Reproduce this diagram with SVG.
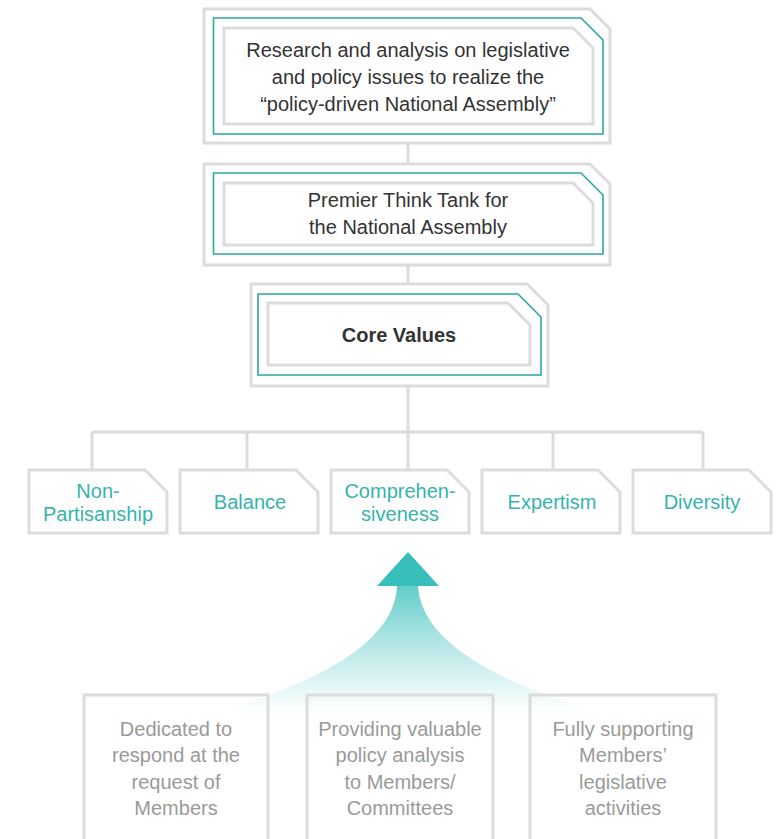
<svg xmlns="http://www.w3.org/2000/svg" width="779" height="839" viewBox="0 0 779 839">
<defs>
<style>
.g{fill:none;stroke:#dcdcdc;stroke-width:3}
.t{fill:none;stroke:#2aa8a4;stroke-width:1.6}
.n{font-family:"Liberation Sans",Arial,sans-serif;font-size:20px;fill:#333;text-anchor:middle}
.v{font-family:"Liberation Sans",Arial,sans-serif;font-size:20px;fill:#36b3ae;text-anchor:middle}
.b{font-family:"Liberation Sans",Arial,sans-serif;font-size:20px;fill:#9a9a9a;text-anchor:middle}
.c{fill:none;stroke:#dcdcdc;stroke-width:3}
</style>
<linearGradient id="fade" x1="0" y1="586" x2="0" y2="712" gradientUnits="userSpaceOnUse">
<stop offset="0" stop-color="#38bfbb" stop-opacity="0.78"/>
<stop offset="0.5" stop-color="#38bfbb" stop-opacity="0.35"/>
<stop offset="0.85" stop-color="#38bfbb" stop-opacity="0.1"/>
<stop offset="1" stop-color="#38bfbb" stop-opacity="0"/>
</linearGradient>
</defs>
<rect width="779" height="839" fill="#fff"/>
<g id="connectors">
<path class="c" d="M408,143V164M408,265V284M408,386V432M92,432H703M92,432V470M247,432V470M408,432V470M553,432V470M703,432V470"/>
</g>
<g id="upward-arrow">
<path d="M397,586 C395,630 350,672 220,712 L596,712 C466,672 421,630 418,586 Z" fill="url(#fade)"/>
<polygon points="408,552 377,586 439,586" fill="#38bfbb"/>
</g>
<g id="node-research">
<polygon class="g" points="204,9 590,9 610,29 610,143 204,143"/>
<polygon class="t" points="213.5,18 581,18 603,40 603,134 213.5,134"/>
<polygon class="g" points="224,28 573,28 593,48 593,124 224,124"/>
<text class="n" x="408" y="57">Research and analysis on legislative</text>
<text class="n" x="408" y="84">and policy issues to realize the</text>
<text class="n" x="408" y="111">“policy-driven National Assembly”</text>
</g>
<g id="node-thinktank">
<polygon class="g" points="204,164 590,164 610,184 610,265 204,265"/>
<polygon class="t" points="213.5,173 581,173 603,195 603,254 213.5,254"/>
<polygon class="g" points="224,183 573,183 593,203 593,245 224,245"/>
<text class="n" x="408" y="207">Premier Think Tank for</text>
<text class="n" x="408" y="234">the National Assembly</text>
</g>
<g id="node-core">
<polygon class="g" points="251,284 527,284 548,305 548,386 251,386"/>
<polygon class="t" points="258,294 518,294 541,317 541,375 258,375"/>
<polygon class="g" points="268,303 508,303 530,325 530,365 268,365"/>
<text class="n" x="399" y="342" font-weight="bold" font-size="21">Core Values</text>
</g>
<g id="value-nonpartisanship">
<polygon class="g" points="29,470 145,470 167,492 167,533 29,533"/>
<text class="v" x="98" y="498">Non-</text>
<text class="v" x="98" y="521">Partisanship</text>
</g>
<g id="value-balance">
<polygon class="g" points="180,470 296,470 318,492 318,533 180,533"/>
<text class="v" x="250" y="509">Balance</text>
</g>
<g id="value-comprehensiveness">
<polygon class="g" points="331,470 447,470 469,492 469,533 331,533"/>
<text class="v" x="400" y="498">Comprehen-</text>
<text class="v" x="400" y="521">siveness</text>
</g>
<g id="value-expertism">
<polygon class="g" points="482,470 598,470 620,492 620,533 482,533"/>
<text class="v" x="552" y="509">Expertism</text>
</g>
<g id="value-diversity">
<polygon class="g" points="633,470 749,470 771,492 771,533 633,533"/>
<text class="v" x="702" y="509">Diversity</text>
</g>
<g id="box-dedicated">
<path class="g" d="M84,845V695H268V845"/>
<text class="b" x="176" y="736">Dedicated to</text>
<text class="b" x="176" y="762">respond at the</text>
<text class="b" x="176" y="789">request of</text>
<text class="b" x="176" y="815">Members</text>
</g>
<g id="box-providing">
<path class="g" d="M307,845V695H493V845"/>
<text class="b" x="400" y="736">Providing valuable</text>
<text class="b" x="400" y="762">policy analysis</text>
<text class="b" x="400" y="789">to Members/</text>
<text class="b" x="400" y="815">Committees</text>
</g>
<g id="box-supporting">
<path class="g" d="M530,845V695H716V845"/>
<text class="b" x="623" y="736">Fully supporting</text>
<text class="b" x="623" y="762">Members’</text>
<text class="b" x="623" y="789">legislative</text>
<text class="b" x="623" y="815">activities</text>
</g>
</svg>
